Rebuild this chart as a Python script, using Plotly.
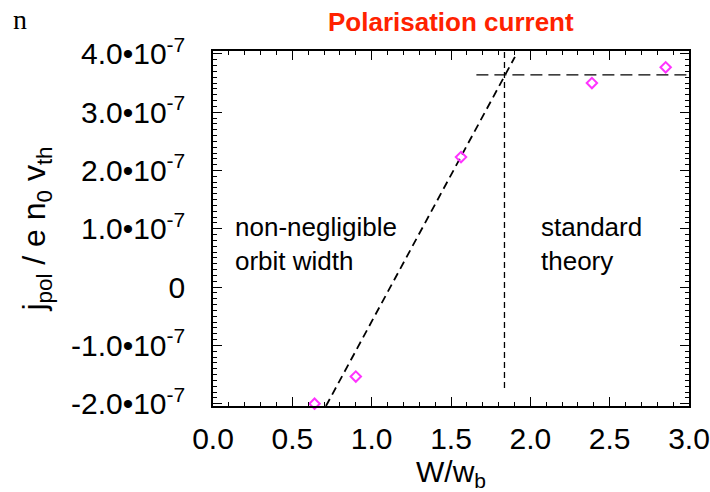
import plotly.graph_objects as go

# data points (W/w_b, j_pol / e n0 v_th)
w_ratio = [0.64, 0.90, 1.563, 2.388, 2.853]
j_pol = [-2.0e-7, -1.535e-7, 2.23e-7, 3.50e-7, 3.77e-7]

# fitted line (non-negligible orbit width regime)
fit_x = [0.712, 1.903]
fit_y = [-2.04e-7, 3.95e-7]

# standard-theory level
std_x = [1.66, 3.0]
std_y = [3.64e-7, 3.64e-7]

# boundary between regimes
bound_x = [1.837, 1.837]
bound_y = [-1.73e-7, 4.05e-7]

x_tickvals = [0.0, 0.5, 1.0, 1.5, 2.0, 2.5, 3.0]
x_ticktext = ["0.0", "0.5", "1.0", "1.5", "2.0", "2.5", "3.0"]
y_tickvals = [4e-7, 3e-7, 2e-7, 1e-7, 0, -1e-7, -2e-7]
y_ticktext = ["4.0•10<sup>-7</sup>", "3.0•10<sup>-7</sup>", "2.0•10<sup>-7</sup>",
              "1.0•10<sup>-7</sup>", "0", "-1.0•10<sup>-7</sup>", "-2.0•10<sup>-7</sup>"]

X_RANGE = [0, 3]
Y_RANGE = [-2.04e-7, 4.05e-7]

# minor tick positions (style only)
x_minor = [i * 0.1 for i in range(0, 31)]
y_minor = [i * 1e-8 for i in range(-20, 41)]

FONT = "Liberation Sans, Arial, sans-serif"

fig = go.Figure()
fig.add_trace(go.Scatter(x=fit_x, y=fit_y, mode="lines",
                         line=dict(color="black", width=1.8, dash="8px,5px"),
                         showlegend=False, hoverinfo="skip"))
fig.add_trace(go.Scatter(x=std_x, y=std_y, mode="lines",
                         line=dict(color="black", width=1.3, dash="12px,6px"),
                         showlegend=False, hoverinfo="skip"))
fig.add_trace(go.Scatter(x=bound_x, y=bound_y, mode="lines",
                         line=dict(color="black", width=1.3, dash="6px,4px"),
                         showlegend=False, hoverinfo="skip"))
fig.add_trace(go.Scatter(x=w_ratio, y=j_pol, mode="markers",
                         marker=dict(symbol="diamond-open", size=8, color="#ff33ff",
                                     line=dict(width=2, color="#ff33ff")),
                         showlegend=False, cliponaxis=False))

axis_common = dict(
    showgrid=False, zeroline=False, showline=True, linecolor="black", linewidth=1.5,
    mirror="allticks", ticks="inside", tickcolor="black", tickwidth=1.3, ticklen=9,
    automargin=False,
    tickfont=dict(family=FONT, size=30, color="black"),
)

fig.update_xaxes(range=X_RANGE, tickmode="array", tickvals=x_tickvals, ticktext=x_ticktext,
                 minor=dict(ticks="inside", tickmode="array", tickvals=x_minor, ticklen=4,
                            tickcolor="black", tickwidth=1),
                 ticklabelstandoff=5, ticklabeloverflow="allow",
                 title=dict(text="W/w<sub>b</sub>", font=dict(family=FONT, size=30, color="black"),
                            standoff=12),
                 **axis_common)
fig.update_yaxes(range=Y_RANGE, tickmode="array", tickvals=y_tickvals,
                 ticktext=y_ticktext,
                 minor=dict(ticks="inside", tickmode="array", tickvals=y_minor, ticklen=4,
                            tickcolor="black", tickwidth=1),
                 ticklabelstandoff=20, ticklabeloverflow="allow",
                 title=dict(text="j<sub>pol</sub> / e n<sub>0</sub> v<sub>th</sub>",
                            font=dict(family=FONT, size=32, color="black"), standoff=16),
                 **axis_common)

fig.add_annotation(text="non-negligible<br>orbit width", xref="paper", yref="paper",
                   x=0.043, y=0.455, xanchor="left", yanchor="middle", showarrow=False, align="left",
                   font=dict(family=FONT, size=26, color="black"))
fig.add_annotation(text="standard<br>theory", xref="paper", yref="paper",
                   x=0.684, y=0.455, xanchor="left", yanchor="middle", showarrow=False, align="left",
                   font=dict(family=FONT, size=26, color="black"))
fig.add_annotation(text="n", xref="paper", yref="paper", x=-0.425, y=1.09,
                   xanchor="left", yanchor="middle", showarrow=False,
                   font=dict(family="Liberation Serif, DejaVu Serif, serif", size=28, color="black"))

fig.update_layout(
    width=710, height=492,
    margin=dict(l=213, r=21, t=51, b=86),
    paper_bgcolor="white", plot_bgcolor="white",
    title=dict(text="<b>Polarisation current</b>", x=0.635, xanchor="center", y=0.955,
               yanchor="middle", font=dict(family=FONT, size=26, color="#ff2200")),
)

fig.write_html("out.html")
